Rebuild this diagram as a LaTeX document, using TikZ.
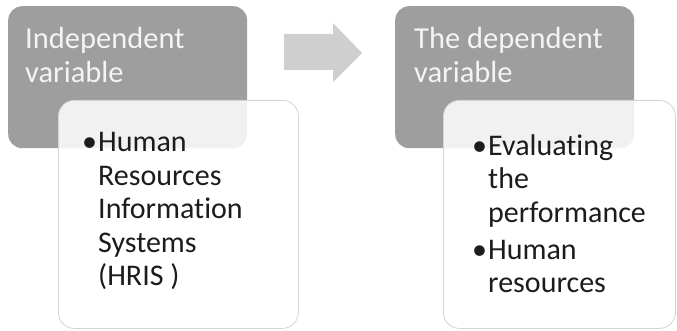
\documentclass[tikz,border=0pt]{standalone}
\usepackage{fontspec}
\setmainfont[Ligatures=NoCommon]{Carlito}
\definecolor{hdrfill}{RGB}{158,158,158}
\definecolor{hdrtext}{RGB}{244,244,244}
\definecolor{bodyline}{RGB}{212,212,212}
\definecolor{bodytext}{RGB}{28,28,28}
\definecolor{arrowfill}{RGB}{207,207,207}
\newcommand{\bul}{\makebox[16pt][l]{\textbullet}}
\newcommand{\ind}{\hspace*{16pt}}
\begin{document}
\begin{tikzpicture}[x=1pt,y=-1pt,
  hdrbox/.style={fill=hdrfill,draw=none,rounded corners=14pt,inner sep=0pt,
    minimum width=239pt,minimum height=142pt,anchor=north west},
  bodybox/.style={fill=white,fill opacity=0.86,draw=bodyline,line width=0.8pt,
    rounded corners=16pt,inner sep=0pt,minimum height=228pt,anchor=north west},
  hdrlabel/.style={text=hdrtext,align=left,inner sep=0pt,anchor=north west,
    font=\fontsize{30.5}{34}\selectfont},
  bodylabel/.style={text=bodytext,align=left,inner sep=0pt,anchor=north west,
    font=\fontsize{30}{33.5}\selectfont},
  blockarrow/.style={fill=arrowfill,draw=none}]
\useasboundingbox (0,0) rectangle (677,331);

% left pair of boxes
\node[hdrbox] (indep) at (8,6) {};
\node[bodybox,minimum width=240pt] (indepbody) at (58,100) {};
\node[hdrlabel] (indeplabel) at (25,27.5) {Independent\\variable};
\node[bodylabel] (indeplist) at (82,132.5) {\bul Human\\\ind Resources\\\ind Information\\\ind Systems\\\ind (HRIS )};

% right pair of boxes
\node[hdrbox] (dep) at (395,6) {};
\node[bodybox,minimum width=232pt] (depbody) at (443,100) {};
\node[hdrlabel] (deplabel) at (414,27.5) {The dependent\\variable};
\node[bodylabel] (deplist) at (472,134) {\bul Evaluating\\\ind the\\\ind performance\\[3.5pt]\bul Human\\\ind resources};

% block arrow between the two pairs
\fill[blockarrow] (284,34) -- (333,34) -- (333,23) -- (362,53) -- (333,82) -- (333,70) -- (284,70) -- cycle;
\end{tikzpicture}
\end{document}
